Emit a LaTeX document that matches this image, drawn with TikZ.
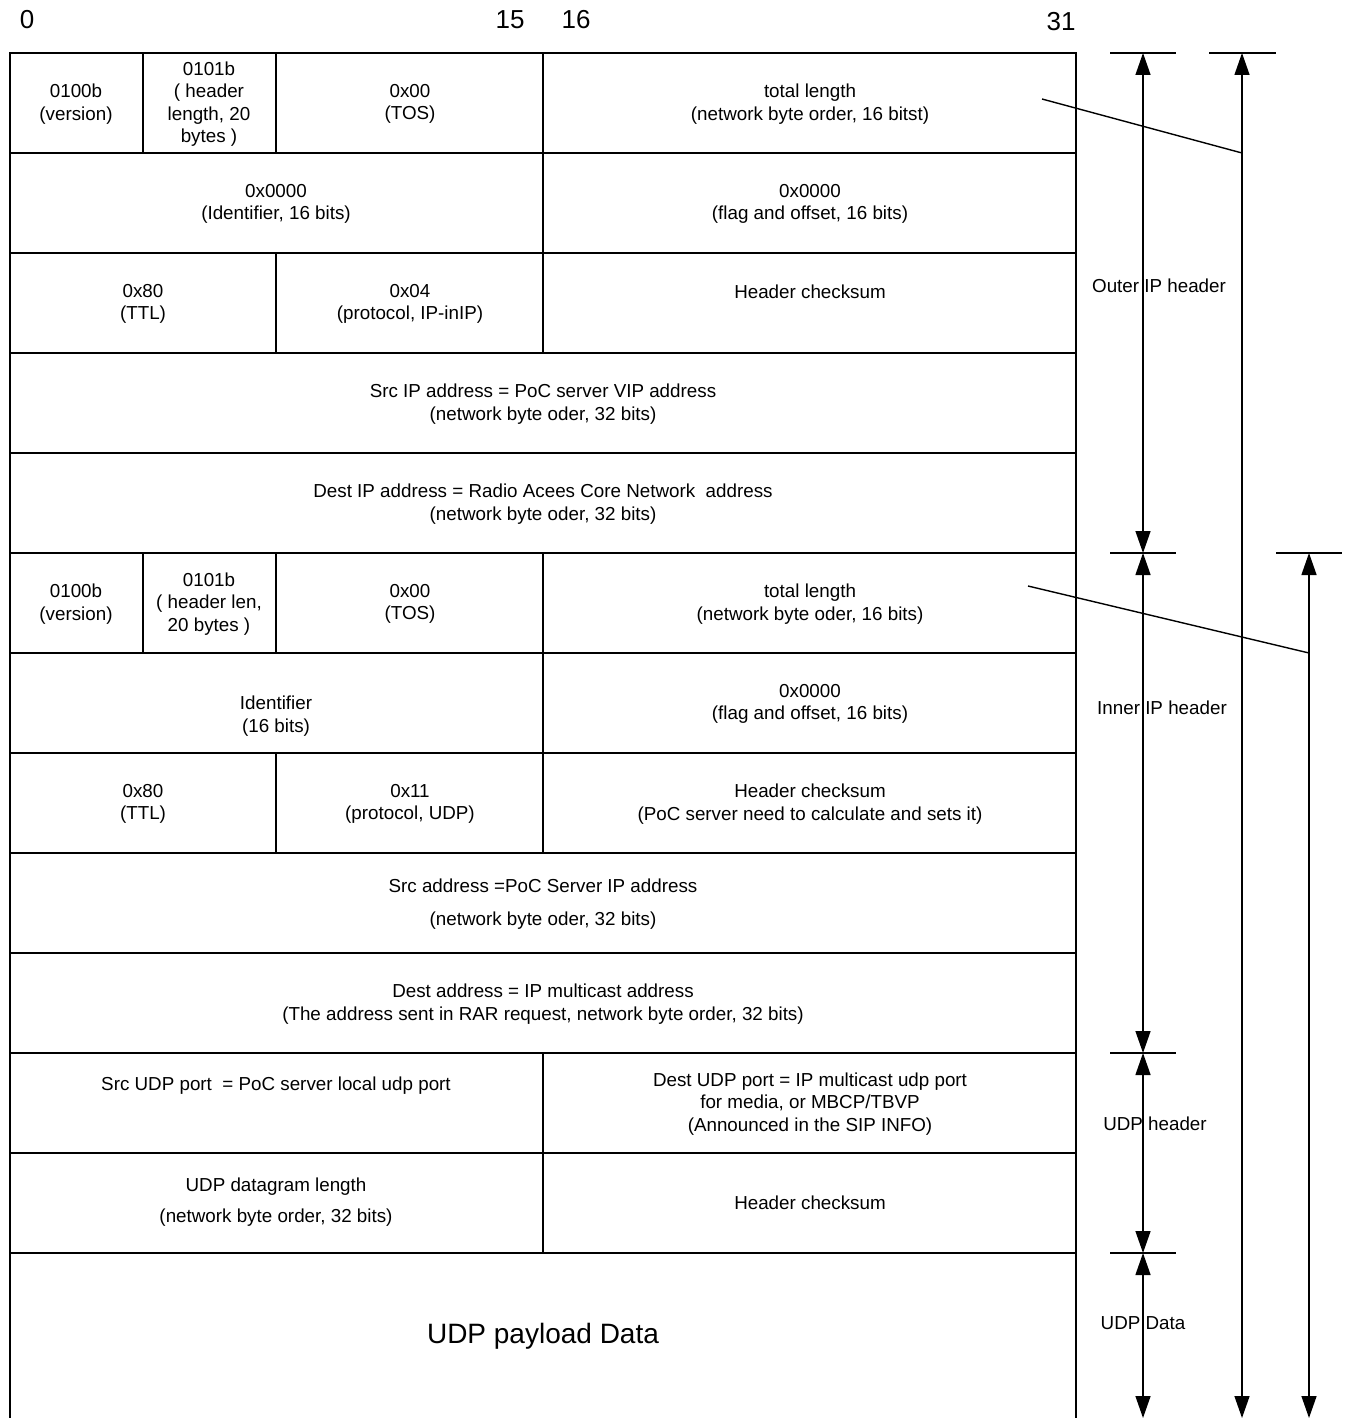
\documentclass[tikz,border=0pt]{standalone}
\usepackage{fontspec}
\setmainfont{Liberation Sans}
\usetikzlibrary{arrows.meta}
\begin{document}
\begin{tikzpicture}[x=1pt,y=-1pt,line width=1.4pt,
  txt/.style={font=\fontsize{18.8}{22.3}\selectfont,align=center,inner sep=0pt},
  big/.style={font=\fontsize{26}{30}\selectfont,inner sep=0pt},
  huge/.style={font=\fontsize{28}{32}\selectfont,inner sep=0pt},
  ddim/.style={{Triangle[length=22pt,width=15pt]}-{Triangle[length=22pt,width=15pt]}},
  tick/.style={line width=1.4pt}]
\useasboundingbox (0,0) rectangle (1352,1418);
% bit numbers
\node[big] (n0) at (27,20) {0};
\node[big] (n15) at (510,20) {15};
\node[big] (n16) at (576,20) {16};
\node[big] (n31) at (1061,22) {31};
% table frame
\draw (10,1418) -- (10,53) -- (1076,53) -- (1076,1418);
\foreach \y in {153,253,353,453,553,653,753,853,953,1053,1153,1253}
  \draw (10,\y) -- (1076,\y);
% inner verticals
\draw (143,53) -- (143,153) (276,53) -- (276,153) (543,53) -- (543,153);
\draw (543,153) -- (543,253);
\draw (276,253) -- (276,353) (543,253) -- (543,353);
\draw (143,553) -- (143,653) (276,553) -- (276,653) (543,553) -- (543,653);
\draw (543,653) -- (543,753);
\draw (276,753) -- (276,853) (543,753) -- (543,853);
\draw (543,1053) -- (543,1253);
% cell texts
\node[txt] (r1a) at (76,104) {0100b\\(version)};
\node[txt] (r1b) at (209,104) {0101b\\( header\\length, 20\\bytes )};
\node[txt] (r1c) at (410,104) {0x00\\(TOS)};
\node[txt] (r1d) at (810,104) {total length\\(network byte order, 16 bitst)};
\node[txt] (r2a) at (276,204) {0x0000\\(Identifier, 16 bits)};
\node[txt] (r2b) at (810,204) {0x0000\\(flag and offset, 16 bits)};
\node[txt] (r3a) at (143,304) {0x80\\(TTL)};
\node[txt] (r3b) at (410,304) {0x04\\(protocol, IP-inIP)};
\node[txt] (r3c) at (810,292) {Header checksum};
\node[txt] (r4) at (543,404) {Src IP address = PoC server VIP address\\(network byte oder, 32 bits)};
\node[txt] (r5) at (543,504) {Dest IP address = Radio Acees Core Network\ \ address\\(network byte oder, 32 bits)};
\node[txt] (r6a) at (76,604) {0100b\\(version)};
\node[txt] (r6b) at (209,604) {0101b\\( header len,\\20 bytes )};
\node[txt] (r6c) at (410,604) {0x00\\(TOS)};
\node[txt] (r6d) at (810,604) {total length\\(network byte oder, 16 bits)};
\node[txt] (r7a) at (276,716) {Identifier\\(16 bits)};
\node[txt] (r7b) at (810,704) {0x0000\\(flag and offset, 16 bits)};
\node[txt] (r8a) at (143,804) {0x80\\(TTL)};
\node[txt] (r8b) at (410,804) {0x11\\(protocol, UDP)};
\node[txt] (r8c) at (810,804) {Header checksum\\(PoC server need to calculate and sets it)};
\node[txt] (r9) at (543,904) {Src address =PoC Server IP address\\[11pt](network byte oder, 32 bits)};
\node[txt] (r10) at (543,1004) {Dest address = IP multicast address\\(The address sent in RAR request, network byte order, 32 bits)};
\node[txt] (r11a) at (276,1086) {Src UDP port\ \ = PoC server local udp port};
\node[txt] (r11b) at (810,1104) {Dest UDP port = IP multicast udp port\\for media, or MBCP/TBVP\\(Announced in the SIP INFO)};
\node[txt] (r12a) at (276,1202) {UDP datagram length\\[9pt](network byte order, 32 bits)};
\node[txt] (r12b) at (810,1203) {Header checksum};
\node[huge] (r13) at (543,1336) {UDP payload Data};
% right labels
\node[txt] (lo) at (1159,286) {Outer IP header};
\node[txt] (li) at (1162,708) {Inner IP header};
\node[txt] (lu) at (1155,1124) {UDP header};
\node[txt] (ld) at (1143,1323) {UDP Data};
% dimension coordinates
\coordinate (a1) at (1143,53);
\coordinate (a2) at (1143,553);
\coordinate (a3) at (1143,1053);
\coordinate (a4) at (1143,1253);
\coordinate (a5) at (1143,1418);
\coordinate (b1) at (1242,53);
\coordinate (b2) at (1242,1418);
\coordinate (c1) at (1309,553);
\coordinate (c2) at (1309,1418);
\coordinate (s1) at (1042,99);
\coordinate (s2) at (1242,153);
\coordinate (s3) at (1028,586);
\coordinate (s4) at (1309,653);
% ticks
\foreach \y in {53,553,1053,1253} \draw[tick] (1110,\y) -- (1176,\y);
\draw[tick] (1209,53) -- (1276,53);
\draw[tick] (1276,553) -- (1342,553);
% arrows
\draw[ddim] (a1) -- (a2);
\draw[ddim] (a2) -- (a3);
\draw[ddim] (a3) -- (a4);
\draw[ddim] (a4) -- (a5);
\draw[ddim] (b1) -- (b2);
\draw[ddim] (c1) -- (c2);
% slanted leaders
\draw (s1) -- (s2);
\draw (s3) -- (s4);
\end{tikzpicture}
\end{document}
